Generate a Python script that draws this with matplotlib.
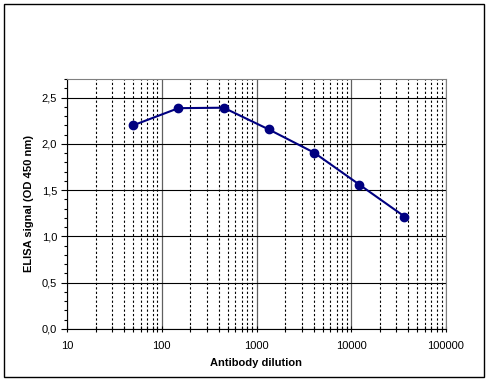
import numpy as np
import matplotlib.pyplot as plt
from matplotlib.ticker import FixedLocator, FuncFormatter, NullFormatter, LogLocator
from matplotlib.patches import Rectangle

# antibody dilution series (3-fold) and ELISA signal
dilution = [50, 150, 450, 1350, 4050, 12150, 36450]
signal = [2.20, 2.385, 2.39, 2.155, 1.905, 1.56, 1.215]

plt.rcParams['font.family'] = ['Liberation Sans', 'DejaVu Sans']

fig = plt.figure(figsize=(4.9, 3.84), dpi=100)
ax = fig.add_axes([67/490, 1 - 329/384, (446-67)/490, (329-79)/384])

# outer chart frame
fig.patches.append(Rectangle((4/490, 1 - 377/384), 480/490, 373/384,
                             transform=fig.transFigure, fill=False,
                             edgecolor='black', lw=1.0))

ax.plot(dilution, signal, '-o', color='#000080', lw=1.5, ms=6, zorder=5)

ax.set_xscale('log')
ax.set_xlim(10, 100000)
ax.set_ylim(0, 2.7)

ax.xaxis.set_major_locator(LogLocator(base=10, numticks=10))
ax.xaxis.set_minor_locator(LogLocator(base=10, subs=np.arange(2, 10), numticks=20))
ax.xaxis.set_minor_formatter(NullFormatter())
ax.xaxis.set_major_formatter(FuncFormatter(lambda v, p: '%d' % v))

ax.yaxis.set_major_locator(FixedLocator([0, 0.5, 1.0, 1.5, 2.0, 2.5]))
ax.yaxis.set_minor_locator(FixedLocator(np.arange(0, 2.71, 0.1)))
ax.yaxis.set_major_formatter(FuncFormatter(lambda v, p: ('%.1f' % v).replace('.', ',')))

ax.grid(True, which='major', axis='y', color='black', lw=0.8, ls='-')
ax.grid(True, which='major', axis='x', color='#606060', lw=0.9, ls='-')
ax.grid(True, which='minor', axis='x', color='black', lw=0.8, ls=(0, (2, 2)))

for s in ['top', 'right']:
    ax.spines[s].set_color('#808080')
ax.spines['left'].set_color('black')
ax.spines['bottom'].set_color('black')

ax.tick_params(axis='both', which='major', labelsize=8, width=0.8, colors='black')
ax.tick_params(axis='x', which='major', direction='inout', length=5, pad=6)
ax.tick_params(axis='x', which='minor', direction='inout', length=4, width=0.8)
ax.tick_params(axis='y', which='major', direction='out', length=4, pad=3)
ax.tick_params(axis='y', which='minor', direction='out', length=2.5, width=0.8)

ax.set_xlabel('Antibody dilution', fontsize=8, fontweight='bold', labelpad=5)
ax.set_ylabel('ELISA signal (OD 450 nm)', fontsize=8, fontweight='bold', labelpad=6)

fig.savefig('out.png', dpi=100)
